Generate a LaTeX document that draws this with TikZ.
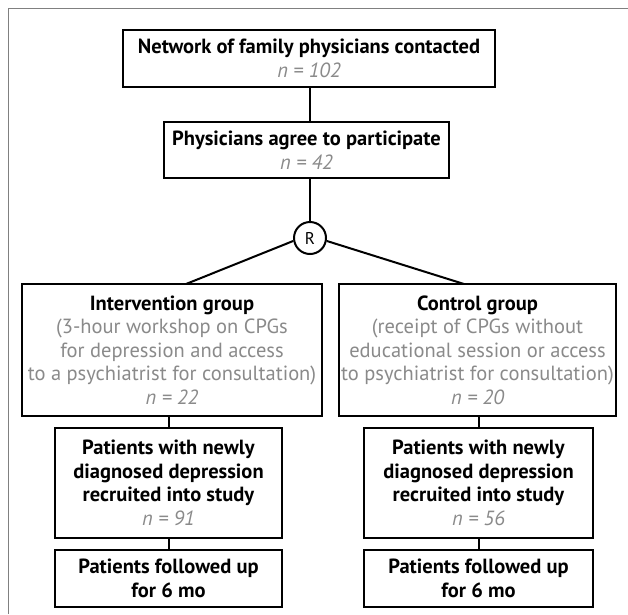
\documentclass[tikz,border=0pt]{standalone}
\usepackage{fontspec}
\setmainfont{PT Sans}
\newfontfamily\grayfont[Color=8A8A8A]{PT Sans}
\newcommand{\gl}[1]{{\grayfont #1}}
\newcommand{\gn}[1]{{\grayfont\itshape #1}}
\definecolor{lineblk}{HTML}{000000}
\begin{document}
\begin{tikzpicture}[x=1pt,y=-1pt,
  box/.style={inner sep=0pt,outer sep=0pt,align=center,
    font=\fontsize{20.5}{23.5}\selectfont},
  boxline/.style={draw=lineblk,line width=2pt},
  conn/.style={draw=lineblk,line width=2pt}]
\useasboundingbox (0,0) rectangle (628,614);
\fill[white] (0,0) rectangle (628,614);
\draw[gray,line width=1pt] (8.5,614) -- (8.5,8.5) -- (628,8.5);

\node[box,minimum width=372pt,minimum height=57pt] (n1) at (309,58.5)
  {\textbf{Network of family physicians contacted}\\\gn{n = 102}};
\node[box,minimum width=285pt,minimum height=56pt] (n2) at (306.5,150)
  {\textbf{Physicians agree to participate}\\\gn{n = 42}};
\node[circle,minimum size=32pt,inner sep=0pt,outer sep=1pt,
  font=\fontsize{17}{20}\selectfont] (R) at (310,238) {R};
\node[box,minimum width=300pt,minimum height=132pt] (intv) at (172,350)
  {\textbf{Intervention group}\\\gl{(3-hour workshop on CPGs}\\
   \gl{for depression and access}\\
   \gl{to a psychiatrist for consultation)}\\\gn{n = 22}};
\node[box,minimum width=277pt,minimum height=132pt] (ctrl) at (477.5,350)
  {\textbf{Control group}\\\gl{(receipt of CPGs without}\\
   \gl{educational session or access}\\
   \gl{to psychiatrist for consultation)}\\\gn{n = 20}};
\node[box,minimum width=227pt,minimum height=110pt] (pati) at (168.5,483)
  {\textbf{Patients with newly}\\\textbf{diagnosed depression}\\\textbf{recruited into study}\\\gn{n = 91}};
\node[box,minimum width=229pt,minimum height=110pt] (patc) at (478.5,483)
  {\textbf{Patients with newly}\\\textbf{diagnosed depression}\\\textbf{recruited into study}\\\gn{n = 56}};
\node[box,minimum width=227pt,minimum height=57pt] (foli) at (168.5,578.5)
  {\textbf{Patients followed up}\\\textbf{for 6 mo}};
\node[box,minimum width=229pt,minimum height=57pt] (folc) at (478.5,578.5)
  {\textbf{Patients followed up}\\\textbf{for 6 mo}};

\foreach \b in {n1,n2,intv,ctrl,pati,patc,foli,folc}
  \draw[boxline] (\b.north west) rectangle (\b.south east);
\draw[draw=lineblk,line width=2pt] (R.center) circle (16pt);

\coordinate (il) at (186,284);
\coordinate (cr) at (464,284);
\draw[conn] (n1.south -| R) -- (n2.north -| R);
\draw[conn] (n2.south -| R) -- (R.north);
\draw[conn] (R.190) -- (il);
\draw[conn] (R.350) -- (cr);
\draw[conn] (intv.south -| pati.north) -- (pati.north);
\draw[conn] (ctrl.south -| patc.north) -- (patc.north);
\draw[conn] (pati.south) -- (foli.north);
\draw[conn] (patc.south) -- (folc.north);
\end{tikzpicture}
\end{document}
